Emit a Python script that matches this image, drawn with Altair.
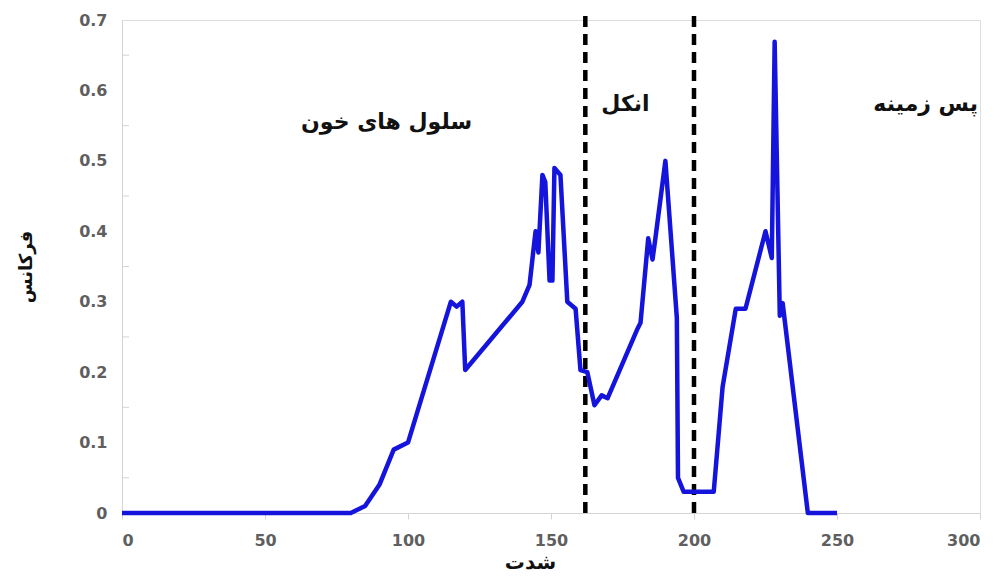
import altair as alt
import pandas as pd

# intensity histogram (شدت -> فرکانس)
intensity = [0, 80, 85, 90, 95, 100, 115, 117, 119, 120, 140, 142.5, 144.6,
             145.6, 147, 148, 149.5, 150.5, 151.2, 153.3, 155.7, 158.6, 160.3,
             162.7, 165.2, 167.7, 169.8, 180.3, 181.3, 184, 185.5, 186.5, 190,
             194, 194.4, 196.4, 206.9, 210, 214.6, 218, 225, 227.2, 228.2, 230,
             231, 239.8, 250]
frequency = [0, 0, 0.01, 0.04, 0.09, 0.1, 0.3, 0.293, 0.3, 0.203, 0.3, 0.324,
             0.4, 0.37, 0.48, 0.47, 0.33, 0.33, 0.49, 0.48, 0.3, 0.29, 0.203,
             0.2, 0.153, 0.167, 0.163, 0.262, 0.27, 0.39, 0.36, 0.39, 0.5,
             0.277, 0.05, 0.03, 0.03, 0.179, 0.29, 0.29, 0.4, 0.362, 0.669, 0.28,
             0.298, 0, 0]

# thresholds between regions
thresholds = [162, 200]

# region labels
region_names = ["سلول های خون", "انکل", "پس زمینه"]
region_x = [92.5, 176, 281]
region_y = [0.555, 0.581, 0.581]

x_ticks = [0, 50, 100, 150, 200, 250, 300]
y_ticks = [0, 0.1, 0.2, 0.3, 0.4, 0.5, 0.6, 0.7]
y_minor = [0.05, 0.15, 0.25, 0.35, 0.45, 0.55, 0.65]

W, H = 858, 493
FONT = "DejaVu Sans"
LABEL_GRAY = "#5f5f5f"

curve = pd.DataFrame({"x": intensity, "y": frequency})
cuts = pd.DataFrame({"x": thresholds})
labels = pd.DataFrame({"name": region_names, "x": region_x, "y": region_y})
minor = pd.DataFrame({"y": y_minor})

xscale = alt.Scale(domain=[0, 300], nice=False)
yscale = alt.Scale(domain=[0, 0.7], nice=False)

x_axis = alt.Axis(values=x_ticks, title="شدت", grid=False, domainColor="#d4d4d4",
                  tickColor="#d4d4d4", tickSize=6, labelFont=FONT, labelFontSize=16,
                  labelFontWeight="bold", labelColor=LABEL_GRAY, labelPadding=13,
                  titleFont=FONT, titleFontSize=20, titleFontWeight="bold",
                  titleColor="#111111", titlePadding=4, titleX=408)
y_axis = alt.Axis(values=y_ticks, format=".1~f", title="فرکانس", grid=False,
                  domainColor="#d4d4d4", ticks=False, labelFont=FONT, labelFontSize=16,
                  labelFontWeight="bold", labelColor=LABEL_GRAY, labelPadding=15,
                  titleFont=FONT, titleFontSize=18, titleFontWeight="bold",
                  titleColor="#111111", titlePadding=43)

line = alt.Chart(curve).mark_line(color="#1414DC", strokeWidth=4.5, strokeJoin="round").encode(
    x=alt.X("x:Q", scale=xscale, axis=x_axis),
    y=alt.Y("y:Q", scale=yscale, axis=y_axis),
)

minor_ticks = alt.Chart(minor).mark_rule(color="#d4d4d4", strokeWidth=1).encode(
    y=alt.Y("y:Q", scale=yscale),
    x=alt.value(0),
    x2=alt.value(7),
)

dashes = alt.Chart(cuts).mark_rule(color="#000000", strokeWidth=4.5, strokeDash=[11, 7]).encode(
    x=alt.X("x:Q", scale=xscale),
    y=alt.value(H),
    y2=alt.value(-7),
)

texts = alt.Chart(labels).mark_text(font=FONT, fontSize=22, fontWeight="bold",
                                    color="#111111", align="center", baseline="middle").encode(
    x=alt.X("x:Q", scale=xscale),
    y=alt.Y("y:Q", scale=yscale),
    text="name:N",
)

chart = alt.layer(minor_ticks, dashes, line, texts).properties(
    width=W, height=H,
    autosize=alt.AutoSizeParams(type="none"),
    padding={"left": 122, "top": 20, "right": 23, "bottom": 68},
).configure_view(stroke=None).configure(background="white")

chart.save("out.html", embed_options={"renderer": "svg", "actions": False})
